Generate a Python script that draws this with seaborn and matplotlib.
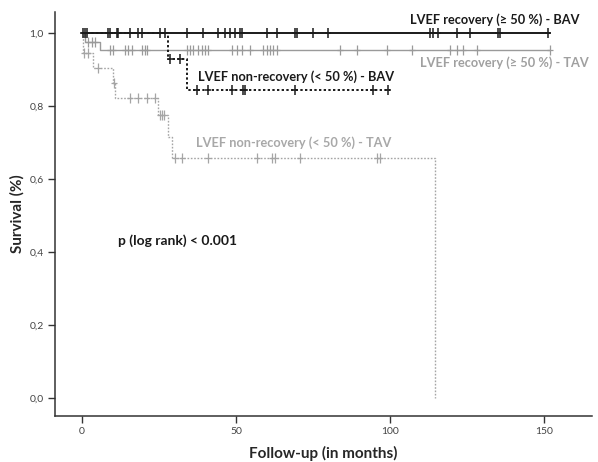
import numpy as np
import pandas as pd
import matplotlib
matplotlib.use("Agg")
import matplotlib.pyplot as plt
import seaborn as sns

# ---- data ----
# step functions: start time of each survival level, level values, end of follow-up
bav_rec_t = [0.0]
bav_rec_s = [1.0]
bav_rec_end = 152.0
bav_rec_cens = [0.3, 1.0, 1.6, 8.4, 9.1, 11.4, 11.7, 15.6, 18.2, 19.5, 25.3, 26.9,
                34.1, 39.3, 44.2, 46.4, 48.1, 49.7, 51.3, 51.9, 60.1, 63.3, 69.2,
                69.8, 75.0, 79.9, 113.0, 114.0, 115.6, 121.8, 126.0, 135.0, 135.7, 151.3]

tav_rec_t = [0.0, 1.0, 5.8]
tav_rec_s = [1.0, 0.976, 0.953]
tav_rec_end = 152.0
tav_rec_cens = [1.9, 3.2, 4.2, 9.1, 10.1, 14.0, 14.9, 16.2, 19.5, 20.5, 21.1,
                34.1, 35.1, 36.0, 37.7, 39.0, 39.9, 40.9, 48.7, 50.3, 51.9, 54.5,
                58.8, 60.1, 61.0, 62.0, 63.3, 83.8, 89.3, 99.0, 107.1,
                119.5, 121.8, 123.7, 128.2, 152.0]

bav_non_t = [0.0, 27.9, 34.1]
bav_non_s = [1.0, 0.929, 0.846]
bav_non_end = 100.0
bav_non_cens = [28.4, 31.8, 37.3, 40.9, 48.7, 52.3, 52.9, 69.2, 94.5, 99.4]

tav_non_t = [0.0, 0.3, 3.6, 10.0, 10.8, 24.7, 28.0, 29.3, 114.6]
tav_non_s = [1.0, 0.945, 0.904, 0.863, 0.822, 0.775, 0.715, 0.658, 0.0]
tav_non_end = 114.6
tav_non_cens = [0.6, 1.8, 5.2, 10.3, 15.6, 18.2, 21.0, 23.7, 25.3, 26.0, 26.5,
                30.2, 32.5, 41.0, 56.8, 61.7, 62.7, 70.8, 95.8, 96.8]

labels = ["LVEF recovery (\u2265 50 %) - BAV", "LVEF recovery (\u2265 50 %) - TAV",
          "LVEF non-recovery (< 50 %) - BAV", "LVEF non-recovery (< 50 %) - TAV"]
x_ticks = [0, 50, 100, 150]
y_ticks = [0.0, 0.2, 0.4, 0.6, 0.8, 1.0]
y_tick_labels = ["0,0", "0,2", "0,4", "0,6", "0,8", "1,0"]

sns.set_style("white")
FONT = ["Lato", "DejaVu Sans"]
plt.rcParams["font.family"] = FONT

fig = plt.figure(figsize=(5.98, 4.62), dpi=100)
ax = fig.add_axes([0.092, 0.0996, 0.898, 0.874])

GRAY = "#9a9a9a"
groups = [
    (bav_rec_t, bav_rec_s, bav_rec_end, bav_rec_cens, "#1a1a1a", "-", 1.4, 1.1),
    (tav_rec_t, tav_rec_s, tav_rec_end, tav_rec_cens, GRAY, "-", 1.0, 0.9),
    (bav_non_t, bav_non_s, bav_non_end, bav_non_cens, "#1a1a1a", (0, (1.2, 1.2)), 1.4, 1.1),
    (tav_non_t, tav_non_s, tav_non_end, tav_non_cens, "#a5a5a5", (0, (1.2, 1.2)), 1.0, 0.9),
]

for t, s, end, cens, col, ls, lw, mlw in groups:
    xs = list(t)
    ys = list(s)
    if end > xs[-1]:
        xs.append(end)
        ys.append(ys[-1])
    df = pd.DataFrame({"t": xs, "s": ys})
    sns.lineplot(data=df, x="t", y="s", estimator=None, sort=False, ax=ax,
                 color=col, linestyle=ls, linewidth=lw, drawstyle="steps-post")
    tt = np.asarray(t)
    ss = np.asarray(s)
    cy = ss[np.searchsorted(tt, np.asarray(cens), side="right") - 1]
    cdf = pd.DataFrame({"t": cens, "s": cy})
    sns.scatterplot(data=cdf, x="t", y="s", ax=ax, marker="|", s=45,
                    color=col, linewidth=mlw, zorder=3)
    sns.scatterplot(data=cdf, x="t", y="s", ax=ax, marker="_", s=25,
                    color=col, linewidth=mlw, zorder=3)

ax.set_xlim(-8.8, 165.6)
ax.set_ylim(-0.049, 1.058)
ax.set_xticks(x_ticks)
ax.set_xticklabels([str(v) for v in x_ticks])
ax.set_yticks(y_ticks)
ax.set_yticklabels(y_tick_labels)
ax.tick_params(axis="both", direction="out", length=5, width=1, color="#333333",
               labelsize=7.5, labelcolor="#444444", bottom=True, left=True, pad=3)
for sp in ["top", "right"]:
    ax.spines[sp].set_visible(False)
for sp in ["left", "bottom"]:
    ax.spines[sp].set_color("#333333")
    ax.spines[sp].set_linewidth(1.1)

ax.set_xlabel("Follow-up (in months)", fontsize=11, fontweight="bold", labelpad=7)
ax.set_ylabel("Survival (%)", fontsize=11, fontweight="bold", labelpad=4)

tk = dict(fontsize=9.2, fontweight="bold", family=FONT, va="center")
ax.text(161.5, 1.038, labels[0], color="#1a1a1a", ha="right", **tk)
ax.text(164.5, 0.919, labels[1], color="#a0a0a0", ha="right", **tk)
ax.text(37.5, 0.882, labels[2], color="#1a1a1a", ha="left", **tk)
ax.text(37, 0.699, labels[3], color="#a8a8a8", ha="left", **tk)
ax.text(11.5, 0.433, "p (log rank) < 0.001", color="#1a1a1a", ha="left",
        fontsize=10, fontweight="bold", family=FONT, va="center")

fig.savefig("out.png", dpi=100)
